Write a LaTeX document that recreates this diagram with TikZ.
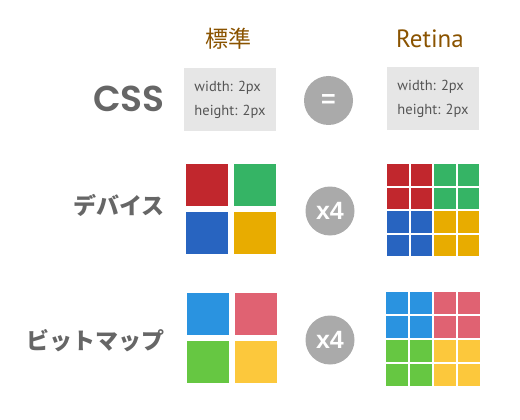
\documentclass[tikz,border=0pt]{standalone}
\usepackage{fontspec}
\setmainfont{PT Sans}
\newfontfamily\jp{Noto Sans CJK JP}
\newfontfamily\pop[UprightFont={* SemiBold}]{Poppins}
\newfontfamily\arl{Liberation Sans}
\definecolor{labelgray}{HTML}{666666}
\definecolor{txtgray}{HTML}{555555}
\definecolor{hdrbrown}{HTML}{8A5300}
\definecolor{boxgray}{HTML}{E6E6E6}
\definecolor{circgray}{HTML}{AAAAAA}
\definecolor{dred}{HTML}{C1272D}
\definecolor{dgreen}{HTML}{35B465}
\definecolor{dblue}{HTML}{2864C0}
\definecolor{dyellow}{HTML}{E8AC00}
\definecolor{bblue}{HTML}{2A93E0}
\definecolor{bpink}{HTML}{E06272}
\definecolor{bgreen}{HTML}{66C742}
\definecolor{byellow}{HTML}{FCC83C}
\newcommand\quadsq[8]{%
  \fill[#5] (#1,#2) rectangle ++(#3,#3);
  \fill[#6] ({#1+#3+#4},#2) rectangle ++(#3,#3);
  \fill[#7] (#1,{#2+#3+#4}) rectangle ++(#3,#3);
  \fill[#8] ({#1+#3+#4},{#2+#3+#4}) rectangle ++(#3,#3);}
\newcommand\finegrid[8]{%
  \quadsq{#1}{#2}{#3}{#4}{#5}{#5}{#5}{#5}
  \quadsq{#1+2*#3+2*#4}{#2}{#3}{#4}{#6}{#6}{#6}{#6}
  \quadsq{#1}{#2+2*#3+2*#4}{#3}{#4}{#7}{#7}{#7}{#7}
  \quadsq{#1+2*#3+2*#4}{#2+2*#3+2*#4}{#3}{#4}{#8}{#8}{#8}{#8}}
\begin{document}
\begin{tikzpicture}[x=1pt,y=-1pt,
  lbl/.style={font=\jp\bfseries\fontsize{23}{23}\selectfont, text=labelgray, anchor=base east, inner sep=0},
  hdr/.style={text=hdrbrown, inner sep=0, anchor=base},
  cssbox/.style={fill=boxgray, minimum width=92pt, minimum height=63pt, inner sep=0, align=left, text=txtgray, font=\fontsize{14.5}{24}\selectfont},
  opc/.style={circle, fill=circgray, minimum size=49pt, inner sep=0, text=white, font=\arl\bfseries\fontsize{25}{25}\selectfont}]
\useasboundingbox (0,0) rectangle (520,420);
% headers
\node[hdr, font=\jp\fontsize{23}{23}\selectfont] (hstd) at (228.5,48) {標準};
\node[hdr, font=\fontsize{25}{25}\selectfont] (hret) at (430,48) {Retina};
% row labels
\node[inner sep=0, anchor=base east, text=labelgray, font=\pop\fontsize{36}{36}\selectfont] (lcss) at (165,112) {CSS};
\node[lbl] (ldev) at (165,214.5) {デバイス};
\node[lbl] (lbmp) at (165,349.5) {ビットマップ};
% css boxes
\node[cssbox] (box1) at (230,99.5) {width: 2px\\height: 2px};
\node[cssbox] (box2) at (433,99) {width: 2px\\height: 2px};
% operators
\node[opc] (eq) at (328.5,100.5) {=};
\node[opc] (x4a) at (330,211) {x4};
\node[opc] (x4b) at (330,340) {x4};
% device row
\quadsq{186}{164}{42}{6}{dred}{dgreen}{dblue}{dyellow}
\finegrid{387}{164}{21.5}{2}{dred}{dgreen}{dblue}{dyellow}
% bitmap row
\quadsq{187}{293}{42}{6}{bblue}{bpink}{bgreen}{byellow}
\finegrid{386}{292}{22}{2}{bblue}{bpink}{bgreen}{byellow}
\end{tikzpicture}
\end{document}
